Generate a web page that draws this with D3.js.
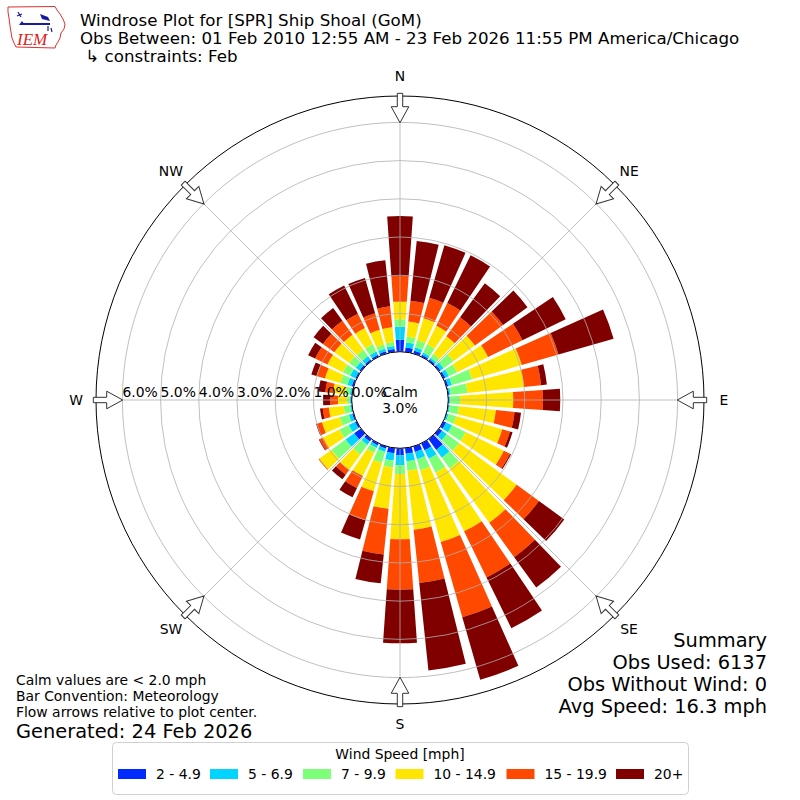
<!DOCTYPE html>
<html><head><meta charset="utf-8">
<script src="https://cdn.jsdelivr.net/npm/d3@7"></script>
<style>
body{margin:0;background:#fff}
svg{display:block}
text{font-family:"DejaVu Sans",sans-serif;fill:#000}
</style>
</head><body>
<svg id="chart" width="800" height="800"></svg>
<script>
// ---------- data ----------
const directions = d3.range(0, 360, 10); // degrees, wind from
const speedBins = ["2 - 4.9", "5 - 6.9", "7 - 9.9", "10 - 14.9", "15 - 19.9", "20+"];
const binColors = ["#002aff", "#00d4ff", "#7dff7a", "#ffe600", "#ff4800", "#800000"];
// percent of observations per direction, per speed bin
const bin1 = [0.31,0.12,0.08,0.05,0.05,0.05,0.06,0.05,0.03,0.02, 0.02,0.02,0.08,0.10,0.35,0.20,0.15,0.15,0.18,0.14, 0.06,0.06,0.08,0.22,0.05,0.04,0.02,0.02,0.02,0.05, 0.04,0.05,0.05,0.05,0.06,0.08];
const bin2 = [0.34,0.13,0.09,0.07,0.05,0.10,0.10,0.10,0.04,0.03, 0.03,0.04,0.17,0.15,0.25,0.25,0.20,0.20,0.26,0.19, 0.09,0.07,0.11,0.28,0.18,0.09,0.03,0.03,0.04,0.12, 0.15,0.12,0.11,0.10,0.08,0.08];
const bin3 = [0.20,0.15,0.19,0.23,0.12,0.31,0.24,0.55,0.44,0.26, 0.24,0.21,0.40,0.40,0.35,0.40,0.30,0.25,0.23,0.18, 0.30,0.15,0.31,0.45,0.27,0.25,0.17,0.07,0.12,0.19, 0.21,0.21,0.20,0.21,0.11,0.10];
const bin4 = [0.46,0.40,0.60,0.55,0.58,0.70,0.90,1.35,1.49,1.39, 0.97,1.25,1.11,1.86,1.76,1.71,1.95,1.55,1.71,1.09, 0.77,0.67,0.50,0.40,0.48,0.48,0.39,0.24,0.32,0.42, 0.45,0.48,0.49,0.47,0.40,0.39];
const bin5 = [0.67,0.55,0.56,0.66,0.61,0.91,1.00,1.00,0.45,0.78, 0.49,0.21,0.18,0.72,1.11,1.34,2.05,1.40,1.32,1.20, 0.79,0.35,0.15,0.02,0.10,0.14,0.16,0.21,0.20,0.23, 0.36,0.37,0.45,0.42,0.45,0.55];
const bin6 = [1.57,1.57,1.43,1.39,1.10,0.79,1.26,1.50,0.15,0.45, 0.17,0.07,0.03,0.82,0.98,1.48,1.70,2.30,1.40,0.76, 0.52,0.27,0.15,0.00,0.02,0.02,0.07,0.18,0.18,0.14, 0.20,0.30,0.41,0.82,0.96,1.21];
const radialTicks = [0, 1, 2, 3, 4, 5, 6];
const radialMax = 6.69;
const compassLabels = ["N", "NE", "E", "SE", "S", "SW", "W", "NW"];
const calmPct = 3.0;
const titleLines = ["Windrose Plot for [SPR] Ship Shoal (GoM)",
  "Obs Between: 01 Feb 2010 12:55 AM - 23 Feb 2026 11:55 PM America/Chicago",
  " \u21b3 constraints: Feb"];
const noteLines = ["Calm values are < 2.0 mph", "Bar Convention: Meteorology", "Flow arrows relative to plot center."];
const generatedText = "Generated: 24 Feb 2026";
const summaryLines = ["Summary", "Obs Used: 6137", "Obs Without Wind: 0", "Avg Speed: 16.3 mph"];
const legendTitle = "Wind Speed [mph]";

// ---------- build ----------
const bins = [bin1, bin2, bin3, bin4, bin5, bin6];
const table = directions.map((d, i) => {
  const row = {dir: d};
  speedBins.forEach((k, j) => row[k] = bins[j][i]);
  return row;
});
const stacked = d3.stack().keys(speedBins)(table);

const svg = d3.select("#chart");
const cx = 400, cy = 400;
const r = d3.scaleLinear().domain([0, radialMax]).range([48.3, 304]);
const ang = d3.scaleLinear().domain([0, 360]).range([0, 2 * Math.PI]);
const halfW = ang(4);

const g = svg.append("g").attr("transform", `translate(${cx},${cy})`);

// bars
const arc = d3.arc()
  .innerRadius(d => r(d[0]))
  .outerRadius(d => r(d[1]))
  .startAngle(d => ang(d.data.dir) - halfW)
  .endAngle(d => ang(d.data.dir) + halfW);

g.selectAll("g.series").data(stacked).join("g")
  .attr("class", "series")
  .attr("fill", (s, i) => binColors[i])
  .selectAll("path").data(s => s.filter(d => d[1] > d[0])).join("path")
  .attr("d", arc);

// grid circles
g.selectAll("circle.grid").data(radialTicks).join("circle")
  .attr("class", "grid")
  .attr("r", d => r(d))
  .attr("fill", "none").attr("stroke", "#b0b0b0").attr("stroke-width", 0.8);

// spokes
const spokeAngles = d3.range(0, 360, 45);
g.selectAll("line.spoke").data(spokeAngles).join("line")
  .attr("class", "spoke")
  .attr("x1", 0).attr("y1", 0)
  .attr("x2", d => r(radialMax) * Math.sin(ang(d)))
  .attr("y2", d => -r(radialMax) * Math.cos(ang(d)))
  .attr("stroke", "#b0b0b0").attr("stroke-width", 0.8);

// calm circle
g.append("circle").attr("r", r(0)).attr("fill", "#fff").attr("stroke", "#000").attr("stroke-width", 1);

// outer circle
g.append("circle").attr("r", r(radialMax)).attr("fill", "none").attr("stroke", "#000").attr("stroke-width", 1);

// arrows (flow towards center)
const tail = r(radialMax) + 2.7, headBase = r(radialMax) - 10.7, tip = r(radialMax) - 26.7;
const arrowPath = `M-2.7,${-tail}L2.7,${-tail}L2.7,${-headBase}L8.8,${-headBase}L0,${-tip}L-8.8,${-headBase}L-2.7,${-headBase}Z`;
g.selectAll("path.arrow").data(spokeAngles).join("path")
  .attr("class", "arrow")
  .attr("d", arrowPath)
  .attr("transform", d => `rotate(${d})`)
  .attr("fill", "#fff").attr("stroke", "#333").attr("stroke-width", 1);

// compass labels
g.selectAll("text.compass").data(compassLabels).join("text")
  .attr("class", "compass")
  .attr("x", (d, i) => 324 * Math.sin(ang(i * 45)))
  .attr("y", (d, i) => -324 * Math.cos(ang(i * 45)))
  .attr("dy", "0.36em")
  .attr("text-anchor", "middle")
  .style("font-size", "13.9px")
  .text(d => d);

// radial labels
g.selectAll("text.rlabel").data(radialTicks).join("text")
  .attr("class", "rlabel")
  .attr("x", d => -r(d))
  .attr("y", -3)
  .style("font-size", "13.9px")
  .text(d => d.toFixed(1) + "%");

// calm text
g.append("text").attr("x", 0).attr("y", -3).attr("text-anchor", "middle").style("font-size", "13.9px").text("Calm");
g.append("text").attr("x", 0).attr("y", 13).attr("text-anchor", "middle").style("font-size", "13.9px").text(calmPct.toFixed(1) + "%");

// title
svg.selectAll("text.title").data(titleLines).join("text")
  .attr("class", "title")
  .attr("x", 80).attr("y", (d, i) => 26 + i * 18)
  .attr("xml:space", "preserve")
  .style("font-size", "16.67px")
  .style("white-space", "pre")
  .text(d => d);

// notes bottom-left
svg.selectAll("text.note").data(noteLines).join("text")
  .attr("class", "note")
  .attr("x", 16).attr("y", (d, i) => 685 + i * 15.8)
  .style("font-size", "13.9px")
  .text(d => d);
svg.append("text").attr("x", 16).attr("y", 737.5).style("font-size", "19.4px").text(generatedText);

// summary
svg.selectAll("text.summary").data(summaryLines).join("text")
  .attr("class", "summary")
  .attr("x", 767).attr("y", (d, i) => 647 + i * 22)
  .attr("text-anchor", "end")
  .style("font-size", "19.4px")
  .text(d => d);

// legend
const lg = svg.append("g");
lg.append("rect").attr("x", 112.5).attr("y", 742.5).attr("width", 576).attr("height", 52).attr("rx", 4)
  .attr("fill", "#fff").attr("stroke", "#d0d0d0").attr("stroke-width", 1);
lg.append("text").attr("x", 400).attr("y", 759).attr("text-anchor", "middle").style("font-size", "13.9px").text(legendTitle);
const patchX = [118, 210, 303, 395.5, 506.5, 616];
speedBins.forEach((b, i) => {
  lg.append("rect").attr("x", patchX[i]).attr("y", 769).attr("width", 28).attr("height", 10).attr("fill", binColors[i]);
  lg.append("text").attr("x", patchX[i] + 38).attr("y", 779).style("font-size", "13.9px").text(b);
});

// IEM logo
const logo = svg.append("g");
logo.append("path")
  .attr("d", "M8,7 L55,6.5 L57,10 L60,14 L63,19 L65,24 L64,29 L61,33 L60,38 L58,42 L56,45 L55,48 L16,47 L14,43 L12,38 L11,32 L10,26 L9,18 L8,12 Z")
  .attr("fill", "#fff").attr("stroke", "#e03030").attr("stroke-width", 1);
logo.append("line").attr("x1", 23).attr("y1", 24).attr("x2", 50).attr("y2", 24).attr("stroke", "#1a1aa0").attr("stroke-width", 2);
logo.append("path").attr("d", "M19,25 L22,21 L25,25 Z").attr("fill", "#1a1aa0");
logo.append("path").attr("d", "M40,14 L48,17 L50,21 L42,19 Z").attr("fill", "#1a1aa0");
logo.append("path").attr("d", "M18,12 L21,17 M17,16 L22,14").attr("stroke", "#1a1aa0").attr("stroke-width", 1.2).attr("fill", "none");
logo.append("path").attr("d", "M48,26 L48,31 M51,28 L52,32").attr("stroke", "#1a1aa0").attr("stroke-width", 1.2).attr("fill", "none");
logo.append("text").attr("x", 17).attr("y", 45)
  .style("font-family", "'Liberation Serif', serif").style("font-style", "italic")
  .style("font-size", "17px").style("fill", "#e02020").text("IEM");
</script>
</body></html>
